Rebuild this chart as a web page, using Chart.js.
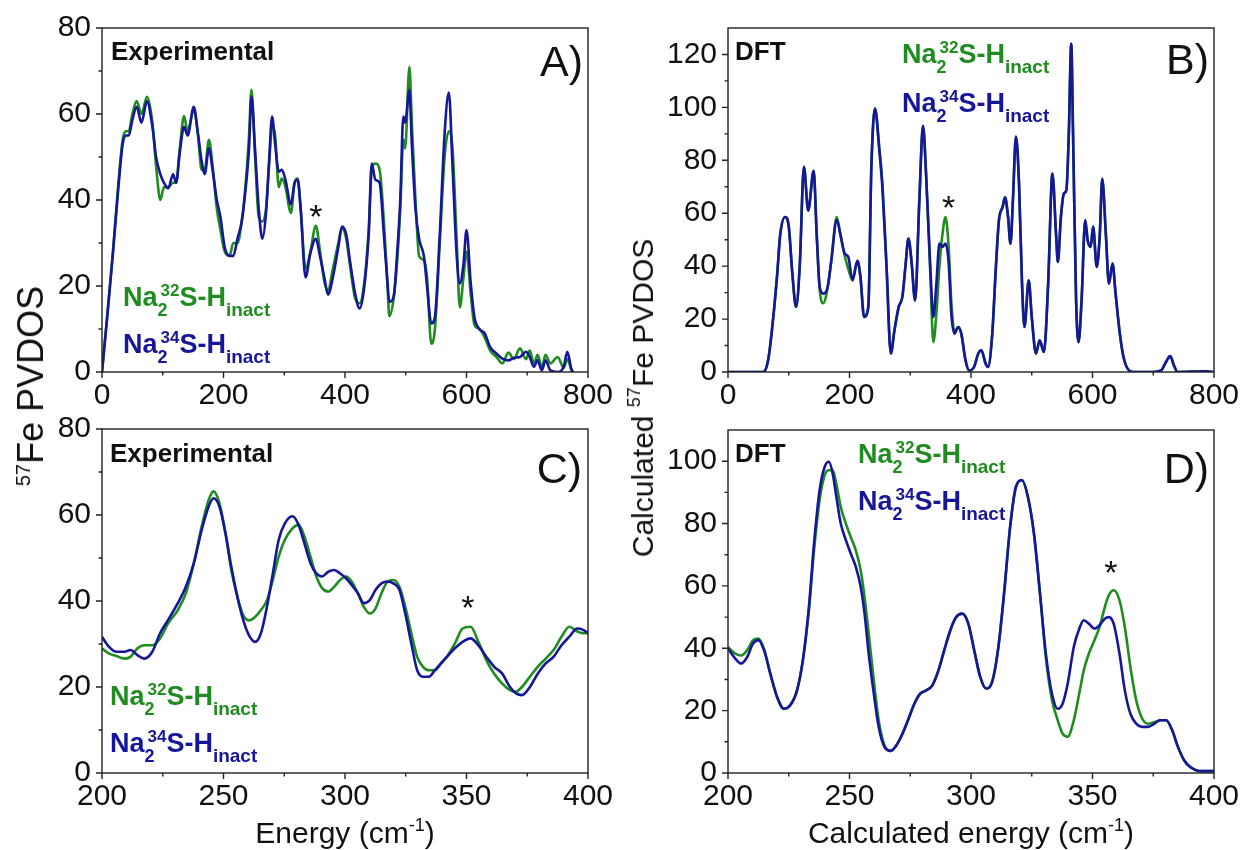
<!DOCTYPE html>
<html>
<head>
<meta charset="utf-8">
<script src="https://cdn.jsdelivr.net/npm/chart.js@4.4.1/dist/chart.umd.min.js"></script>
<style>
  body { margin: 0; background: #fff; }
  #wrap { position: relative; width: 1245px; height: 850px; overflow: hidden; }
  canvas { position: absolute; }
  .ytitle {
    position: absolute;
    font-family: "Liberation Sans", Arial, sans-serif;
    color: #111;
    white-space: nowrap;
    line-height: 1;
    transform: translate(-50%, -50%) rotate(-90deg);
  }
  .ytitle sup { vertical-align: 13px; line-height: 0; }
</style>
</head>
<body>
<div id="wrap">
  <canvas id="chartA" width="620" height="420" style="left:0;top:0"></canvas>
  <canvas id="chartB" width="625" height="420" style="left:620px;top:0"></canvas>
  <canvas id="chartC" width="620" height="450" style="left:0;top:400px"></canvas>
  <canvas id="chartD" width="625" height="450" style="left:620px;top:400px"></canvas>
  <div class="ytitle" style="left:31px;top:386px;font-size:36px"><sup style="font-size:20px">57</sup>Fe PVDOS</div>
  <div class="ytitle" style="left:643px;top:398px;font-size:30px">Calculated <sup style="font-size:18px">57</sup>Fe PVDOS</div>
</div>
<script>
const FONT = '"Liberation Sans", Arial, sans-serif';
const GREEN = '#1f8c1f';
const BLUE = '#16169a';

// Panel A - experimental, full range
const xA = [0, 8, 18, 27, 34, 39, 44, 50, 57, 65, 74, 83, 89, 96, 102, 109, 117, 122, 128, 135, 141, 151, 158, 164, 169, 176, 182, 189, 195, 202, 210, 216, 223, 230, 236, 242, 246, 252, 258, 264, 270, 275, 280, 285, 291, 296, 302, 311, 317, 322, 327, 335, 343, 352, 359, 366, 372, 380, 389, 395, 402, 408, 417, 424, 431, 439, 444, 450, 457, 464, 470, 473, 480, 486, 491, 496, 499, 506, 510, 516, 522, 530, 535, 542, 548, 556, 564, 571, 577, 584, 589, 595, 600, 607, 613, 621, 630, 639, 649, 659, 669, 678, 688, 698, 704, 711, 717, 724, 730, 738, 750, 760, 766, 773, 776];
const s34A = [0, 12, 27.6, 43, 53, 55, 55, 58.6, 61.7, 58, 63, 57, 50, 46, 44, 42.7, 46, 44, 51, 57, 55, 61.7, 55.5, 49, 46, 52, 47, 40, 36, 29, 27, 27, 31, 35, 42, 52, 64, 51.6, 38, 31, 37, 49, 59.4, 53, 46.6, 47, 44.7, 39, 44, 44.7, 38, 22, 27.6, 31, 26.8, 22, 18, 22, 29, 33.8, 32, 26, 18, 14.8, 19, 32, 48.5, 44.7, 44, 32, 20.6, 16.3, 17.5, 28, 40, 59.4, 58, 65.6, 53, 38, 31, 26.8, 20, 11.3, 12.8, 32, 55.5, 65, 47.8, 26.8, 20.6, 25, 33, 20.6, 12.8, 10, 9, 5.8, 4.3, 3.1, 2.7, 3.3, 3.5, 4.7, 3.5, 1.2, 2.7, 0.4, 2.7, 0.4, 0, 1.2, 4.7, 0.4, 0];
const s32A = [0, 12, 28, 44, 54, 56, 56, 60, 63, 60, 64, 58, 48, 40, 43, 43, 44, 44, 52, 59.5, 56, 61, 55, 47, 47, 54, 48, 38, 33, 28, 27, 30, 30, 35, 43, 55, 65.6, 50, 36, 35, 38, 48, 57, 55, 43, 45, 43, 37, 44, 45, 38, 24, 28, 34, 28, 21, 19, 24, 30, 33.5, 31, 25, 17, 16, 20, 33, 47, 48.5, 47, 35, 20, 13, 17, 26, 38, 54, 52, 71, 58, 40, 27, 26, 22, 6.6, 10, 30, 50, 56, 52, 30, 15, 22, 28, 18, 11, 10, 8, 5, 3.5, 2, 4.5, 3, 5.5, 3, 5, 2, 4, 1, 4, 2, 3.5, 1, 3, 0.5, 0];

// Panel B - DFT, full range
const xB = [0, 58, 66, 74, 81, 86, 94, 100, 106, 112, 118, 125, 132, 141, 146, 151, 157, 164, 170, 179, 185, 192, 198, 205, 213, 218, 224, 231, 236, 242, 249, 254, 261, 268, 274, 281, 287, 292, 297, 302, 308, 315, 321, 326, 333, 338, 343, 348, 353, 358, 363, 368, 373, 379, 384, 391, 397, 405, 412, 417, 424, 428, 435, 441, 446, 452, 456, 461, 465, 469, 474, 479, 484, 488, 495, 500, 507, 513, 520, 527, 534, 540, 543, 548, 553, 557, 561, 565, 568, 573, 577, 582, 588, 592, 597, 601, 607, 612, 616, 622, 627, 633, 638, 645, 651, 660, 668, 700, 713, 721, 728, 734, 740, 786, 800];
const s34B = [0, 0, 4.4, 19.5, 37, 52, 58.6, 55, 37, 24.6, 39.7, 77.5, 61, 76, 52, 32, 29.6, 32, 42, 57.4, 52, 44.8, 43.5, 34.7, 42, 36, 20.8, 24.6, 77.5, 99.6, 84, 70, 39.7, 7, 15.8, 24.6, 28.4, 39.7, 50.4, 42, 27, 65, 93, 75, 39.7, 20.8, 33.4, 48.5, 47.3, 48.5, 42, 20.8, 14.5, 17, 14.5, 4.4, 0.6, 1.9, 7, 8.2, 3.2, 1.9, 14.5, 39.7, 57.4, 62.4, 66, 58.6, 48.5, 65, 89, 71.5, 33.4, 17, 34.7, 20.8, 7, 12, 7.6, 33.4, 75, 52, 41.6, 58.6, 67.5, 68.7, 90, 124, 90, 27, 11.3, 27, 57.4, 49.8, 47.3, 55, 39.7, 52, 73, 52, 33.4, 41, 29.6, 14.5, 5.7, 0.6, 0, 0, 0.6, 3.8, 6, 2.5, 0, 0.3, 0];
const s32B = [0, 0, 4.4, 19.5, 37, 52, 58.6, 55, 37, 24.6, 39.7, 77.5, 61, 76, 52, 31, 26, 32, 42, 58.6, 52, 44, 39, 34.7, 42, 36, 20.8, 24.6, 77.5, 99.6, 85, 72, 39.7, 7, 15.8, 24.6, 28.4, 39.7, 50.4, 42, 27, 65, 93, 75, 37, 11.3, 22, 40, 52, 58.6, 48, 25, 15, 17, 14.5, 4.4, 0.6, 1.9, 7, 8.2, 3.2, 1.9, 14.5, 39.7, 57.4, 62.4, 66, 58.6, 48.5, 65, 89, 71.5, 33.4, 17, 34.7, 20.8, 7, 12, 7.6, 33.4, 75, 52, 41.6, 58.6, 67.5, 68.7, 90, 124, 90, 27, 11.3, 27, 57.4, 49.8, 47.3, 55, 39.7, 52, 73, 52, 33.4, 41, 29.6, 14.5, 5.7, 0.6, 0, 0, 0.6, 3.8, 6, 2.5, 0, 0.3, 0];

// Panel C - experimental, 200-400 zoom
const xC = [200, 202.8, 206, 209.3, 211.7, 214.6, 217.4, 220.7, 223.9, 227.2, 231.2, 234.5, 237.8, 241, 243.9, 245.9, 248.3, 250.8, 253.2, 255.7, 258.1, 260.5, 263, 265.4, 267.9, 270.3, 272.7, 275.2, 278.4, 280.9, 283.3, 285.8, 288.2, 290.6, 293.1, 295.5, 298, 300.4, 302.8, 305.3, 307.7, 310.2, 312.6, 315, 317.5, 319.9, 322.4, 324.8, 327.3, 329.7, 332.1, 334.6, 337, 339.5, 341.9, 345.2, 348.4, 351.7, 354.9, 358.2, 361.4, 364.7, 367.9, 370.4, 372.8, 376.1, 379.3, 382.6, 385.8, 389.1, 392.3, 395.6, 398, 400];
const s34C = [31.7, 29.4, 28.2, 28.2, 28.6, 27.4, 26.6, 28.2, 32.5, 35.6, 39.5, 43.3, 48.8, 56.5, 62, 63.9, 62, 55.8, 48, 41, 35.6, 32, 30.5, 32.5, 38.7, 46.4, 54.2, 58, 59.7, 57.7, 53.4, 48.8, 46.4, 45.7, 46.8, 47.2, 46.4, 45.3, 43.7, 41.8, 39.5, 40.2, 42.6, 44.1, 44.5, 44.1, 42.6, 37.1, 30.1, 23.9, 22.4, 22.4, 23.9, 25.5, 27, 29, 30.5, 31.3, 29.7, 27, 24.7, 23.1, 20, 18.5, 18.1, 20, 23.1, 25.5, 27, 29.7, 31.7, 33.6, 33.3, 32.5];
const s32C = [29, 27.8, 27.2, 26.6, 27, 29, 29.7, 29.7, 31.3, 34.8, 37.9, 41.8, 48.8, 57.3, 63.5, 65.5, 62.8, 55.8, 47.2, 41, 36.7, 35.5, 36.3, 37.9, 40.2, 44.9, 50.3, 54.2, 56.9, 57.7, 55, 50.3, 45.7, 43, 42.2, 43.3, 44.9, 45.7, 44.5, 41.8, 38.7, 37.1, 38.3, 41.8, 44.5, 44.9, 43.3, 38.7, 32.5, 27, 24.7, 23.9, 23.9, 25.5, 27, 30.1, 33.6, 34, 30.5, 26.2, 23.1, 20.8, 19.3, 18.9, 20, 22.4, 24.7, 26.6, 28.6, 31.7, 34, 32.9, 32.5, 32.5];

// Panel D - DFT, 200-400 zoom
const xD = [200, 203, 205.4, 207.9, 210.3, 212.5, 214.8, 217.4, 220.2, 223, 225.6, 228.4, 230.8, 233.3, 235.4, 237.7, 239.8, 241.5, 243.1, 244.8, 246.4, 248.5, 250.5, 252.6, 254.6, 256.2, 257.9, 260, 262, 264.4, 266.9, 269.3, 271.8, 274.3, 276.7, 279.2, 281.6, 284.1, 286.6, 289, 291.5, 293.9, 296.4, 298.9, 301.3, 303.8, 306.2, 308.7, 311.1, 313.6, 316.1, 318.5, 321, 323.4, 325.9, 328.4, 330.8, 333.3, 335.7, 337.7, 339.8, 342.3, 344.8, 346.4, 348.5, 350.8, 352.9, 355.1, 356.7, 358.7, 361.1, 363.3, 365.6, 368, 370.5, 372.9, 375.4, 377.9, 380.3, 382.8, 385.2, 387.7, 390.2, 392.6, 395.1, 397.5, 400];
const s34D = [39.9, 36.7, 35.1, 37.2, 41.5, 42.6, 39.4, 31.9, 24.4, 20.6, 21.7, 26.5, 36.1, 53.3, 73.6, 90.7, 98.2, 99.8, 96, 87.5, 80, 74.7, 70.4, 66.1, 59.7, 51.1, 38.3, 25.5, 14.8, 8.3, 7.1, 8.9, 12.6, 17.4, 22.2, 25.5, 26.5, 28.1, 32.9, 39.4, 45.8, 50, 51.1, 47.9, 39.4, 30.8, 27.1, 29.2, 39.4, 57.5, 78.9, 91.8, 93.9, 88.6, 76.8, 57.5, 38.3, 25.5, 20.6, 22.2, 28.7, 40.4, 46.8, 49, 47.9, 46.3, 47.4, 49.5, 50, 47.9, 38.3, 26.5, 19, 15.8, 14.8, 14.8, 15.8, 16.9, 16.9, 13.7, 8.3, 4.1, 1.9, 0.9, 0.6, 0.6, 0.6];
const s32D = [40.4, 38.3, 37.7, 39.4, 42.6, 43.1, 39.9, 31.9, 24.4, 20.6, 21.7, 26.5, 36.1, 52.2, 71.4, 87.5, 95.5, 97.1, 97.1, 91.8, 85.3, 80, 75.7, 71.4, 65, 56.4, 44.7, 29.7, 16.9, 8.9, 7.1, 8.9, 12.6, 17.4, 22.2, 25.5, 26.5, 28.1, 32.9, 39.4, 45.8, 50, 51.1, 47.9, 39.4, 30.8, 27.1, 29.2, 39.4, 57.5, 78.9, 91.8, 93.9, 88.6, 76.8, 57.5, 37, 23.5, 16.9, 12.6, 11.6, 16.9, 26.5, 32.9, 38.3, 42.6, 46.8, 53.3, 57, 58.6, 55.4, 46.8, 34, 23.3, 17.4, 15.8, 16.3, 16.9, 16.9, 13.7, 8.3, 4.1, 1.9, 0.9, 0.6, 0.6, 0.6];

// tick labels
const ticksFullX = [0, 200, 400, 600, 800];
const ticksZoomX = [200, 250, 300, 350, 400];
const ticksExpY = [0, 20, 40, 60, 80];
const ticksDftBY = [0, 20, 40, 60, 80, 100, 120];
const ticksDftDY = [0, 20, 40, 60, 80, 100];

// star positions (x, y) for the marked band
const starA = [352, 38];
const starB = [363, 65];
const starC = [350.6, 40.2];
const starD = [357.6, 66.7];

function formula(iso) {
  return [
    { t: 'Na', s: 27 },
    { t: '2', s: 18, dy: 10 },
    { t: iso, s: 17, dy: -10, back: true, dx: 3 },
    { t: 'S-H', s: 27 },
    { t: 'inact', s: 19, dy: 10 }
  ];
}

// draws a run of text pieces with sub/superscripts, returns width
function drawRich(ctx, x, y, parts, weight, draw) {
  let cx = x, prevStart = x, prevEnd = x;
  parts.forEach(p => {
    ctx.font = `${weight} ${p.s}px ${FONT}`;
    const start = p.back ? prevStart + (p.dx || 0) : cx;
    const w = ctx.measureText(p.t).width;
    if (draw) ctx.fillText(p.t, start, y + (p.dy || 0));
    const end = start + w;
    prevEnd = p.back ? Math.max(prevEnd, end) : end;
    prevStart = start;
    cx = prevEnd;
  });
  return cx - x;
}

const framePlugin = {
  id: 'frame',
  afterDatasetsDraw(chart, args, opts) {
    const { ctx, chartArea: a } = chart;
    const sx = chart.scales.x, sy = chart.scales.y;
    const mid = arr => arr.slice(1).map((v, i) => (v + arr[i]) / 2);
    ctx.save();
    ctx.strokeStyle = '#222';
    ctx.lineWidth = 1.4;
    ctx.strokeRect(a.left, a.top, a.right - a.left, a.bottom - a.top);
    ctx.beginPath();
    const xt = opts.xTicks, yt = opts.yTicks;
    xt.forEach(v => { const p = sx.getPixelForValue(v); ctx.moveTo(p, a.bottom); ctx.lineTo(p, a.bottom + 6); });
    mid(xt).forEach(v => { const p = sx.getPixelForValue(v); ctx.moveTo(p, a.bottom); ctx.lineTo(p, a.bottom + 3.5); });
    yt.forEach(v => { const p = sy.getPixelForValue(v); ctx.moveTo(a.left, p); ctx.lineTo(a.left - 6, p); });
    mid(yt).forEach(v => { const p = sy.getPixelForValue(v); ctx.moveTo(a.left, p); ctx.lineTo(a.left - 3.5, p); });
    ctx.stroke();
    ctx.restore();
  }
};

const notesPlugin = {
  id: 'notes',
  afterDatasetsDraw(chart, args, opts) {
    const { ctx, chartArea: a } = chart;
    ctx.save();
    ctx.textBaseline = 'alphabetic';
    ctx.textAlign = 'left';
    opts.items.forEach(it => {
      let px, py;
      if (it.data) {
        px = chart.scales.x.getPixelForValue(it.data[0]);
        py = chart.scales.y.getPixelForValue(it.data[1]) + (it.dy || 0);
      } else if (it.at === 'tr') {
        px = a.right + it.dx; py = a.top + it.dy;
      } else if (it.at === 'bc') {
        px = (a.left + a.right) / 2; py = a.bottom + it.dy;
      } else {
        px = a.left + it.dx; py = a.top + it.dy;
      }
      const w = drawRich(ctx, 0, 0, it.parts, it.weight || 'normal', false);
      if (it.align === 'center') px -= w / 2;
      if (it.align === 'right') px -= w;
      ctx.fillStyle = it.color || '#111';
      drawRich(ctx, px, py, it.parts, it.weight || 'normal', true);
    });
    ctx.restore();
  }
};

function makePanel(id, plot, xr, yr, xTicks, yTicks, blue, green, items) {
  const cv = document.getElementById(id);
  const W = cv.width, H = cv.height;
  const toPts = (xs, ys) => xs.map((x, i) => ({ x: x, y: ys[i] }));
  const tickFont = { family: FONT, size: 30 };
  new Chart(cv, {
    type: 'line',
    data: {
      datasets: [
        { label: '34S', data: toPts(blue[0], blue[1]), borderColor: BLUE, borderWidth: 2.6, pointRadius: 0, cubicInterpolationMode: 'monotone', fill: false },
        { label: '32S', data: toPts(green[0], green[1]), borderColor: GREEN, borderWidth: 2.6, pointRadius: 0, cubicInterpolationMode: 'monotone', fill: false }
      ]
    },
    options: {
      responsive: false,
      animation: false,
      devicePixelRatio: 1,
      events: [],
      layout: { padding: { top: plot.top, right: W - plot.right, left: 0, bottom: 0 } },
      scales: {
        x: {
          type: 'linear', min: xr[0], max: xr[1],
          grid: { display: false, drawTicks: false }, border: { display: false },
          ticks: { font: tickFont, color: '#111', padding: 6, maxRotation: 0, autoSkip: false },
          afterBuildTicks: s => { s.ticks = xTicks.map(v => ({ value: v })); },
          afterFit: s => { s.height = H - plot.bottom; s.paddingLeft = 0; s.paddingRight = 0; }
        },
        y: {
          type: 'linear', min: yr[0], max: yr[1],
          grid: { display: false, drawTicks: false }, border: { display: false },
          ticks: { font: tickFont, color: '#111', padding: 11, autoSkip: false },
          afterBuildTicks: s => { s.ticks = yTicks.map(v => ({ value: v })); },
          afterFit: s => { s.width = plot.left; s.paddingTop = 0; s.paddingBottom = 0; }
        }
      },
      plugins: {
        legend: { display: false },
        tooltip: { enabled: false },
        frame: { xTicks: xTicks, yTicks: yTicks },
        notes: { items: items }
      }
    },
    plugins: [framePlugin, notesPlugin]
  });
}

const star = p => ({ data: p, dy: 19, align: 'center', parts: [{ t: '*', s: 34 }] });
const bold = (t, dx, dy) => ({ dx: dx, dy: dy, weight: 'bold', parts: [{ t: t, s: 26 }] });
const letter = (t, dx, dy) => ({ at: 'tr', dx: dx, dy: dy, align: 'right', parts: [{ t: t, s: 43 }] });
const legend = (iso, color, dx, dy) => ({ dx: dx, dy: dy, weight: 'bold', color: color, parts: formula(iso) });

makePanel('chartA', { left: 102, right: 588, top: 28, bottom: 372 }, [0, 800], [0, 80], ticksFullX, ticksExpY,
  [xA, s34A], [xA, s32A], [
    bold('Experimental', 9, 32),
    letter('A)', -5, 48),
    legend('32', GREEN, 21, 278),
    legend('34', BLUE, 21, 325),
    star(starA)
  ]);

makePanel('chartB', { left: 108, right: 594, top: 28, bottom: 372 }, [0, 800], [0, 130], ticksFullX, ticksDftBY,
  [xB, s34B], [xB, s32B], [
    bold('DFT', 7, 32),
    letter('B)', -5, 46),
    legend('32', GREEN, 174, 35),
    legend('34', BLUE, 174, 84),
    star(starB)
  ]);

makePanel('chartC', { left: 102, right: 588, top: 29, bottom: 373 }, [200, 400], [0, 80], ticksZoomX, ticksExpY,
  [xC, s34C], [xC, s32C], [
    bold('Experimental', 8, 33),
    letter('C)', -6, 54),
    legend('32', GREEN, 8, 276),
    legend('34', BLUE, 8, 323),
    star(starC),
    { at: 'bc', dy: 70, align: 'center', parts: [{ t: 'Energy (cm', s: 30 }, { t: '-1', s: 18, dy: -12 }, { t: ')', s: 30 }] }
  ]);

makePanel('chartD', { left: 108, right: 594, top: 30, bottom: 373 }, [200, 400], [0, 110], ticksZoomX, ticksDftDY,
  [xD, s34D], [xD, s32D], [
    bold('DFT', 7, 32),
    letter('D)', -5, 53),
    legend('32', GREEN, 130, 33),
    legend('34', BLUE, 130, 80),
    star(starD),
    { at: 'bc', dy: 70, align: 'center', parts: [{ t: 'Calculated energy (cm', s: 30 }, { t: '-1', s: 18, dy: -12 }, { t: ')', s: 30 }] }
  ]);
</script>
</body>
</html>
